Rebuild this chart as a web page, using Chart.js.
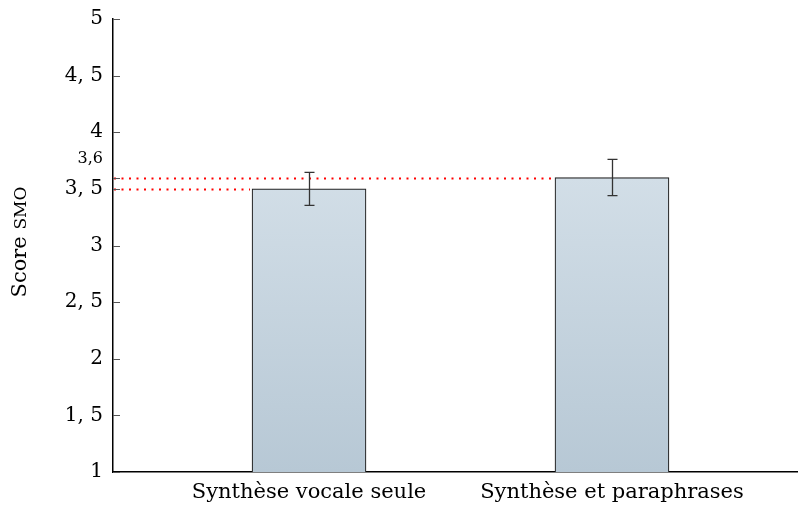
<!DOCTYPE html>
<html lang="fr">
<head>
    <meta charset="UTF-8">
    <title>Score SMO</title>
    <script src="https://cdn.jsdelivr.net/npm/chart.js"></script>
    <style>
        body {
            margin: 0;
            padding: 0;
            background: #ffffff;
        }

        .chart-container {
            width: 798px;
            height: 508px;
            position: relative;
        }
    </style>
</head>
<body>
    <div class="chart-container">
        <canvas id="smoChart"></canvas>
    </div>

    <script>
        const categories = ['Synthèse vocale seule', 'Synthèse et paraphrases'];
        const positions = [1, 2];
        const scores = [3.5, 3.6];
        const errors = [0.145, 0.16];
        const yTicks = [1, 1.5, 2, 2.5, 3, 3.5, 4, 4.5, 5];
        const extraTick = 3.6;

        const FONT = "'DejaVu Serif', serif";

        // error bars, red dotted guides and inward ticks
        const decorations = {
            id: 'decorations',
            afterDatasetsDraw(chart) {
                const ctx = chart.ctx;
                const area = chart.chartArea;
                const y = chart.scales.y;
                const bars = chart.getDatasetMeta(0).data;

                ctx.save();
                // dotted guides
                ctx.strokeStyle = '#ff0000';
                ctx.lineWidth = 2;
                ctx.setLineDash([2, 5.5]);
                bars.forEach((bar, i) => {
                    const py = Math.round(y.getPixelForValue(scores[i])) + 0.5;
                    ctx.beginPath();
                    ctx.moveTo(area.left + 1, py);
                    ctx.lineTo(bar.x - bar.width / 2 - 2, py);
                    ctx.stroke();
                });
                ctx.setLineDash([]);

                // error bars
                ctx.strokeStyle = '#333333';
                ctx.lineWidth = 1.3;
                bars.forEach((bar, i) => {
                    const top = y.getPixelForValue(scores[i] + errors[i]);
                    const bot = y.getPixelForValue(scores[i] - errors[i]);
                    const x = Math.round(bar.x) + 0.5;
                    ctx.beginPath();
                    ctx.moveTo(x, top);
                    ctx.lineTo(x, bot);
                    ctx.moveTo(x - 5, top);
                    ctx.lineTo(x + 5, top);
                    ctx.moveTo(x - 5, bot);
                    ctx.lineTo(x + 5, bot);
                    ctx.stroke();
                });

                // ticks pointing inward
                ctx.strokeStyle = '#555555';
                ctx.lineWidth = 1;
                yTicks.concat([extraTick]).forEach(v => {
                    const py = Math.round(y.getPixelForValue(v)) + 0.5;
                    ctx.beginPath();
                    ctx.moveTo(area.left, py);
                    ctx.lineTo(area.left + 7, py);
                    ctx.stroke();
                });

                // extra label 3,6
                ctx.fillStyle = '#000000';
                ctx.font = "16px " + FONT;
                ctx.textAlign = 'right';
                ctx.textBaseline = 'middle';
                ctx.fillText(String(extraTick).replace('.', ','), area.left - 10, y.getPixelForValue(extraTick) - 19);

                // axis title with small caps
                ctx.translate(21, 242);
                ctx.rotate(-Math.PI / 2);
                ctx.textBaseline = 'middle';
                ctx.textAlign = 'left';
                ctx.font = "21px " + FONT;
                const w1 = ctx.measureText('Score ').width;
                ctx.font = "17px " + FONT;
                const w2 = ctx.measureText('SMO').width;
                const start = -(w1 + w2) / 2;
                ctx.font = "21px " + FONT;
                ctx.fillText('Score ', start, 0);
                ctx.font = "17px " + FONT;
                ctx.fillText('SMO', start + w1, 1);
                ctx.restore();
            }
        };

        const ctx = document.getElementById('smoChart').getContext('2d');
        new Chart(ctx, {
            type: 'bar',
            data: {
                datasets: [{
                    data: positions.map((p, i) => ({ x: p, y: scores[i] })),
                    backgroundColor: function (context) {
                        const chart = context.chart;
                        const area = chart.chartArea;
                        if (!area) return '#c4d3de';
                        const top = chart.scales.y.getPixelForValue(Math.max(...scores));
                        const g = chart.ctx.createLinearGradient(0, top, 0, area.bottom);
                        g.addColorStop(0, '#d2dee7');
                        g.addColorStop(1, '#b7c8d5');
                        return g;
                    },
                    borderColor: '#222222',
                    borderWidth: 1.2,
                    borderSkipped: false,
                    barThickness: 114
                }]
            },
            options: {
                responsive: true,
                maintainAspectRatio: false,
                animation: false,
                layout: { padding: { top: 19, right: 0, left: 0, bottom: 0 } },
                plugins: {
                    legend: { display: false },
                    tooltip: { enabled: false }
                },
                scales: {
                    x: {
                        type: 'linear',
                        offset: false,
                        min: 0.353,
                        max: 2.614,
                        afterBuildTicks: axis => { axis.ticks = positions.map(v => ({ value: v })); },
                        afterFit: axis => { axis.height = 36; },
                        grid: { display: false },
                        border: { display: true, color: '#000000', width: 1.5 },
                        ticks: {
                            color: '#000000',
                            padding: 0,
                            maxRotation: 0,
                            autoSkip: false,
                            font: { family: FONT, size: 21 },
                            callback: v => categories[positions.indexOf(v)]
                        }
                    },
                    y: {
                        min: 1,
                        max: 5,
                        afterBuildTicks: axis => { axis.ticks = yTicks.map(v => ({ value: v })); },
                        afterFit: axis => { axis.width = 113; },
                        grid: { display: false },
                        border: { display: true, color: '#000000', width: 1.5 },
                        ticks: {
                            color: '#000000',
                            padding: 2,
                            font: { family: FONT, size: 20 },
                            callback: v => String(v).replace('.', ', ')
                        }
                    }
                }
            },
            plugins: [decorations]
        });
    </script>
</body>
</html>
